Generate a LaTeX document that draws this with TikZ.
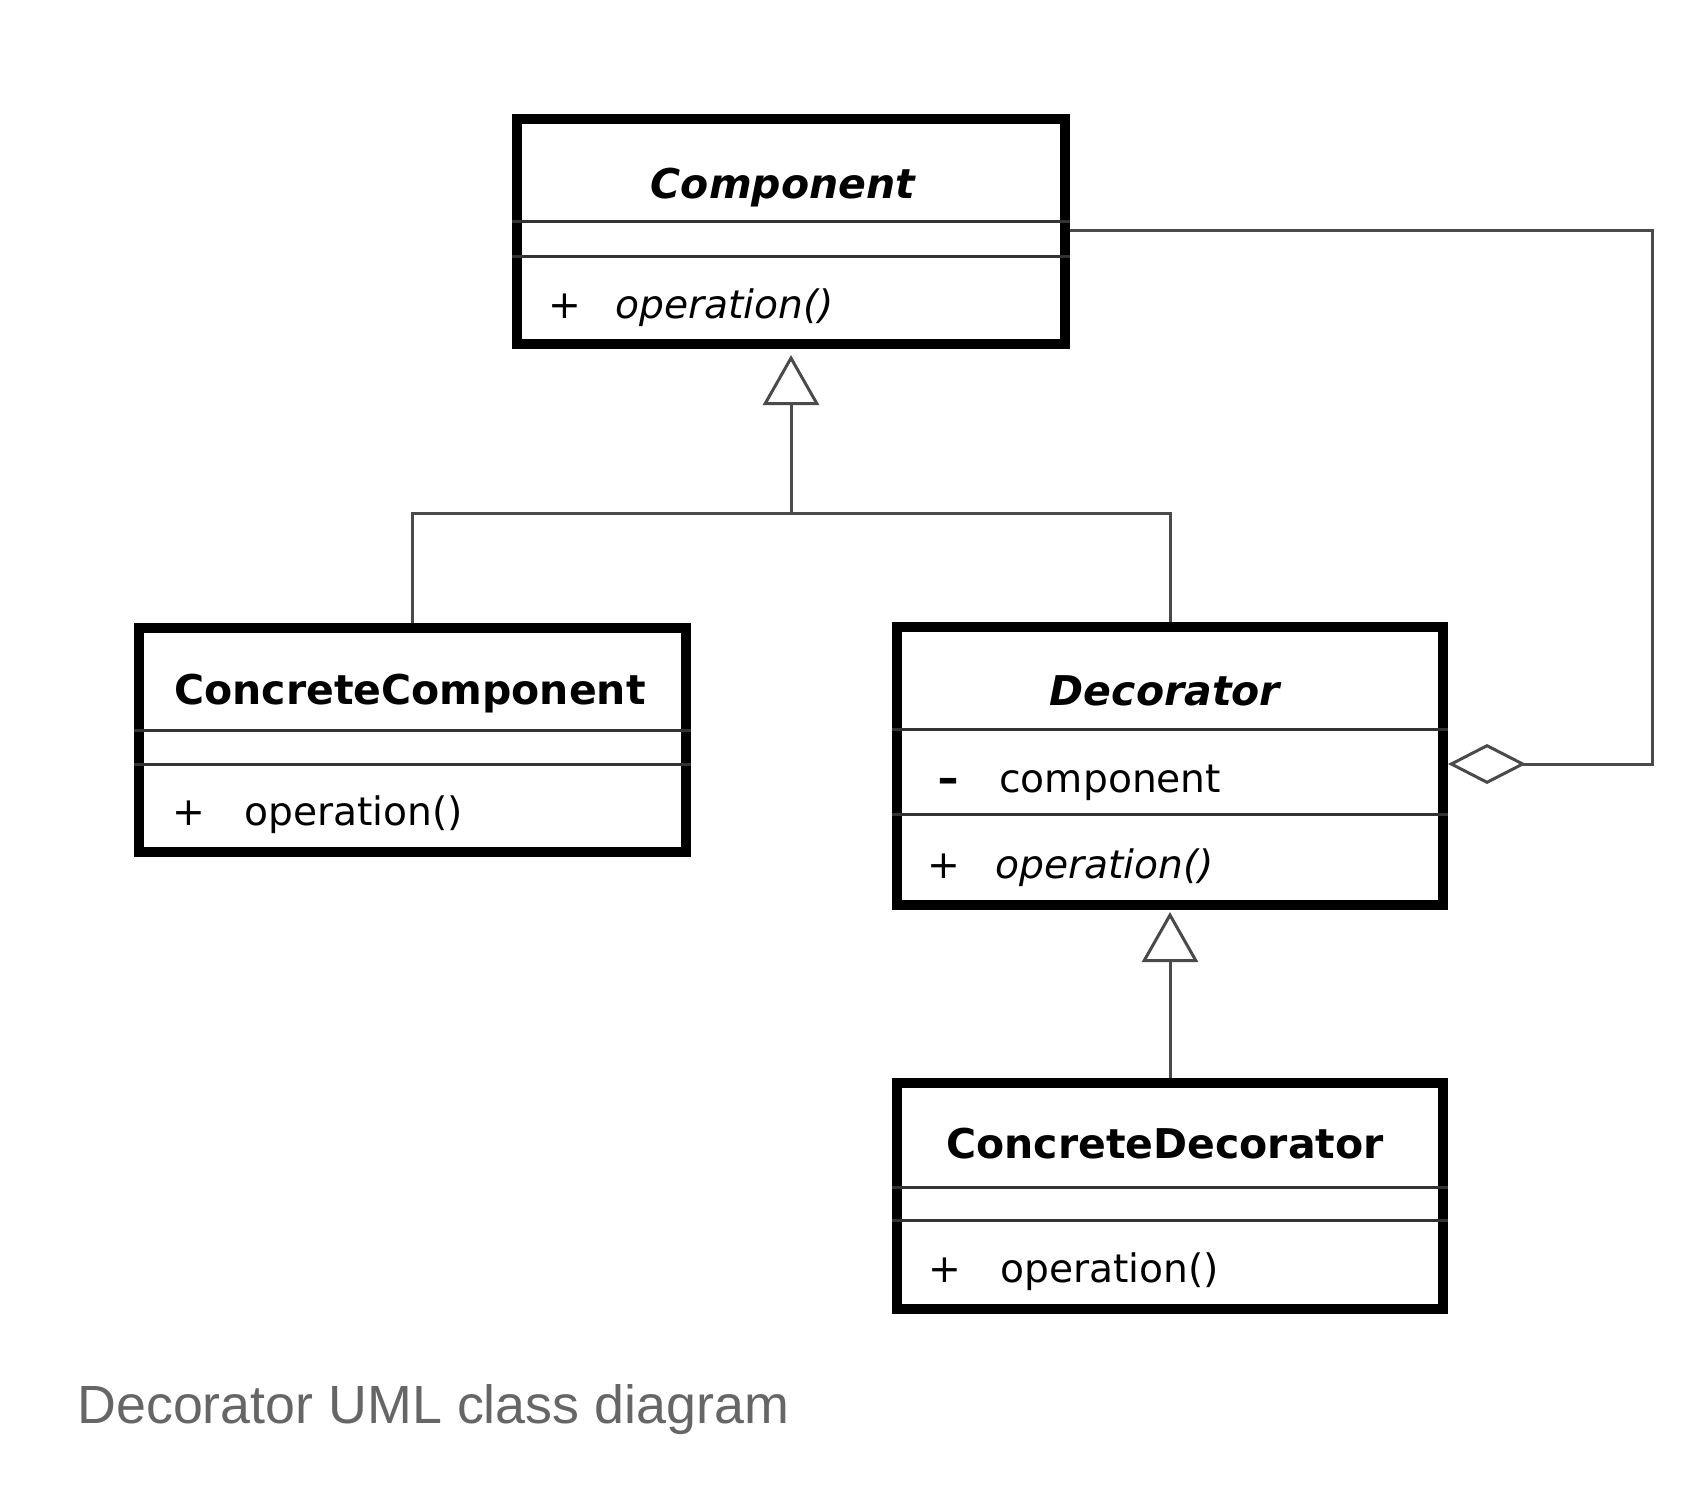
\documentclass[tikz,border=0pt]{standalone}
\usepackage{fontspec}
\newfontfamily\dv{DejaVu Sans}[ItalicFont={DejaVu Sans Oblique},BoldFont={DejaVu Sans Bold},BoldItalicFont={DejaVu Sans Bold Oblique}]
\newfontfamily\lib{Liberation Sans}
\usetikzlibrary{arrows.meta}
\definecolor{capgray}{HTML}{666666}
\definecolor{linegray}{HTML}{4A4A4A}
\begin{document}
\begin{tikzpicture}[x=0.5pt,y=-0.5pt,
  classbox/.style={draw=black, line width=5pt, rectangle, inner sep=0pt, fill=white},
  divider/.style={line width=1.5pt, draw=black!80},
  conn/.style={line width=1.5pt, draw=linegray},
  gentip/.style={-{Triangle[open, length=25pt, width=28pt]}},
  titletext/.style={anchor=base, inner sep=0pt, font=\dv\bfseries\fontsize{20.5pt}{24pt}\selectfont},
  member/.style={anchor=base west, inner sep=0pt, font=\dv\fontsize{19.6pt}{23pt}\selectfont},
]
\fill[white] (0,0) rectangle (1708,1488);
\useasboundingbox (0,0) rectangle (1708,1488);

% class boxes
\node[classbox, minimum width=274pt, minimum height=112.5pt] (comp) at (791,231.5) {};
\node[classbox, minimum width=273.5pt, minimum height=112pt] (cc) at (412.5,739.5) {};
\node[classbox, minimum width=273pt, minimum height=139pt] (dec) at (1170,766) {};
\node[classbox, minimum width=273pt, minimum height=113pt] (cd) at (1170,1196) {};

% dividers
\draw[divider] (comp.west |- 0,221) -- (comp.east |- 0,221);
\draw[divider] (comp.west |- 0,256) -- (comp.east |- 0,256);
\draw[divider] (cc.west |- 0,730) -- (cc.east |- 0,730);
\draw[divider] (cc.west |- 0,764) -- (cc.east |- 0,764);
\draw[divider] (dec.west |- 0,729) -- (dec.east |- 0,729);
\draw[divider] (dec.west |- 0,814) -- (dec.east |- 0,814);
\draw[divider] (cd.west |- 0,1187) -- (cd.east |- 0,1187);
\draw[divider] (cd.west |- 0,1220) -- (cd.east |- 0,1220);

% titles
\node[titletext] (comptitle) at (783,198) {\itshape Component};
\node[titletext] (cctitle) at (410,704) {ConcreteComponent};
\node[titletext] (dectitle) at (1165,705) {\itshape Decorator};
\node[titletext] (cdtitle) at (1165,1158) {ConcreteDecorator};

% members
\node[member] (compplus) at (548,318) {+};
\node[member] (compop) at (615,318) {\itshape operation()};
\node[member] (ccplus) at (172.5,825) {+};
\node[member] (ccop) at (244,825) {operation()};
\node[member, xscale=1.35] (decminus) at (937,792) {\bfseries -};
\node[member] (decattr) at (999,792) {component};
\node[member] (decplus) at (927,878) {+};
\node[member] (decop) at (995,878) {\itshape operation()};
\node[member] (cdplus) at (928,1282) {+};
\node[member] (cdop) at (1000,1282) {operation()};

% generalization to Component
\coordinate (j1) at (791,513);
\draw[conn] (cc.north) -- (cc.north |- j1) -- (dec.north |- j1) -- (dec.north);
\draw[conn, gentip, shorten >=3pt] (j1) -- (comp.south);

% generalization to Decorator
\draw[conn, gentip, shorten >=1pt] (cd.north) -- (dec.south);

% aggregation
\coordinate (a1) at (1652,764);
\coordinate (a2) at (1652,230);
\draw[conn, {Diamond[open, length=39pt, width=20pt]}-] (dec.east |- a1) -- (a1) -- (a2) -- (comp.east |- a2);

% caption
\node[anchor=base west, inner sep=0pt, font=\lib\fontsize{26.9pt}{31pt}\selectfont, text=capgray] (caption) at (77,1423) {Decorator UML class diagram};
\end{tikzpicture}
\end{document}
